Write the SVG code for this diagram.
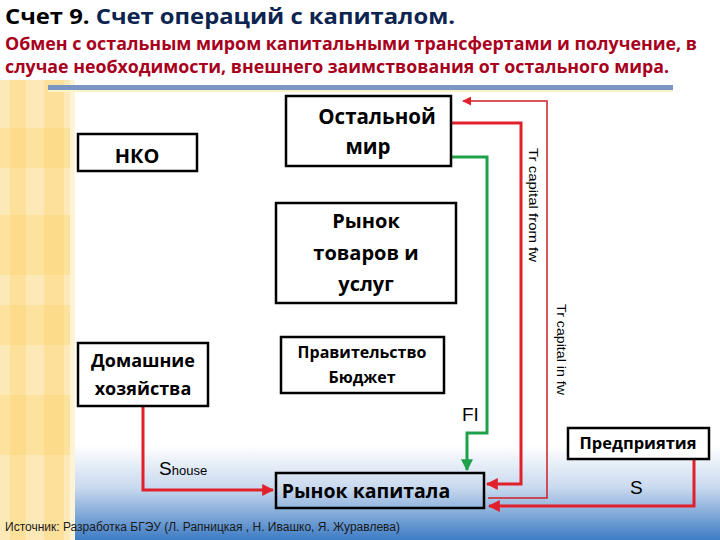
<svg xmlns="http://www.w3.org/2000/svg" width="720" height="540" viewBox="0 0 720 540">
<defs>
<linearGradient id="bot" x1="0" y1="0" x2="0" y2="1">
<stop offset="0" stop-color="#ffffff"/>
<stop offset="0.45" stop-color="#c9d9ee"/>
<stop offset="1" stop-color="#3d7cc4"/>
</linearGradient>
<marker id="ar" viewBox="0 0 10 10" refX="9" refY="5" markerWidth="4" markerHeight="4" orient="auto-start-reverse" markerUnits="strokeWidth">
<path d="M0,0 L10,5 L0,10 z" fill="#e0202a"/>
</marker>
<marker id="arT" viewBox="0 0 10 10" refX="9" refY="5" markerWidth="6" markerHeight="6" orient="auto" markerUnits="strokeWidth">
<path d="M0,0 L10,5 L0,10 z" fill="#e0202a"/>
</marker>
<marker id="ag" viewBox="0 0 10 10" refX="9" refY="5" markerWidth="4" markerHeight="4" orient="auto" markerUnits="strokeWidth">
<path d="M0,0 L10,5 L0,10 z" fill="#1fa04a"/>
</marker>
</defs>
<style>
.box{fill:#ffffff;stroke:#000;stroke-width:2.5}
.bt{font-family:"Open Sans","DejaVu Sans",sans-serif;font-weight:bold;fill:#000;text-anchor:middle}
.red{fill:none;stroke:#e0202a;stroke-width:3}
.thin{fill:none;stroke:#d01c28;stroke-width:1.5}
.grn{fill:none;stroke:#1fa04a;stroke-width:3}
.lbl{font-family:"Liberation Sans",Arial,sans-serif;fill:#000}
</style>
<rect width="720" height="540" fill="#ffffff"/>
<rect x="0" y="445" width="720" height="95" fill="url(#bot)"/>
<g id="stripes">
<rect x="0" y="80" width="74" height="460" fill="#fde9b8"/>
<rect x="10" y="80" width="16" height="460" fill="#fcdc8c" opacity="0.7"/>
<rect x="44" y="80" width="20" height="460" fill="#fcdc8c" opacity="0.7"/>
<rect x="0" y="128" width="74" height="40" fill="#fbd676" opacity="0.4"/>
<rect x="0" y="215" width="74" height="60" fill="#fbd676" opacity="0.4"/>
<rect x="0" y="305" width="74" height="40" fill="#fbd676" opacity="0.4"/>
<rect x="0" y="395" width="74" height="60" fill="#fbd676" opacity="0.4"/>
<rect x="70" y="80" width="5" height="460" fill="#fff3d6"/>
</g>
<rect x="48" y="85" width="625" height="5" fill="#7b96c4"/>
<rect x="48" y="90" width="625" height="2" fill="#fbf3c8"/>
<g id="title">
<text x="5" y="24" font-family="'Open Sans','DejaVu Sans',sans-serif" font-weight="bold" font-size="22" textLength="450" lengthAdjust="spacingAndGlyphs"><tspan fill="#000">Счет 9. </tspan><tspan fill="#0d2450">Счет операций с капиталом.</tspan></text>
<text x="5" y="50" font-family="'Open Sans','DejaVu Sans',sans-serif" font-weight="bold" font-size="17" fill="#a8001c" textLength="692" lengthAdjust="spacingAndGlyphs">Обмен с остальным миром капитальными трансфертами и получение, в</text>
<text x="5" y="73" font-family="'Open Sans','DejaVu Sans',sans-serif" font-weight="bold" font-size="17" fill="#a8001c" textLength="664" lengthAdjust="spacingAndGlyphs">случае необходимости, внешнего заимствования от остального мира.</text>
</g>
<g id="connectors">
<polyline class="grn" points="451,157 487,157 487,433 467,433 467,470" marker-end="url(#ag)"/>
<polyline class="red" points="451,123 521,123 521,484 487,484" marker-end="url(#ar)"/>
<polyline class="thin" points="488,498 547,498 547,101 463,101" marker-end="url(#arT)"/>
<polyline class="red" points="694,459 694,506 489,506" marker-end="url(#ar)"/>
<polyline class="red" points="143,406 143,490 273,490" marker-end="url(#ar)"/>
<text class="lbl" font-size="12.5" transform="translate(529,148) rotate(90)" textLength="114" lengthAdjust="spacingAndGlyphs">Tr capital  from fw</text>
<text class="lbl" font-size="12" transform="translate(557,304) rotate(90)" textLength="91" lengthAdjust="spacingAndGlyphs">Tr capital in fw</text>
<text class="lbl" x="462" y="421" font-size="19">FI</text>
<text class="lbl" x="159" y="475" font-size="19">S<tspan font-size="13">house</tspan></text>
<text class="lbl" x="630" y="494" font-size="19">S</text>
</g>
<g id="nko">
<rect class="box" x="78" y="134" width="119" height="37"/>
<text class="bt" x="137" y="163" font-size="20">НКО</text>
</g>
<g id="rest-world">
<rect class="box" x="286" y="96" width="165" height="70"/>
<text class="bt" x="377" y="124" font-size="20.5">Остальной</text>
<text class="bt" x="368" y="154" font-size="20.5">мир</text>
</g>
<g id="goods-market">
<rect class="box" x="276" y="203" width="180" height="100"/>
<text class="bt" x="366" y="228" font-size="20">Рынок</text>
<text class="bt" x="366" y="260" font-size="20">товаров и</text>
<text class="bt" x="366" y="291" font-size="20">услуг</text>
</g>
<g id="households">
<rect class="box" x="78" y="343" width="130" height="63"/>
<text class="bt" x="143" y="367" font-size="18">Домашние</text>
<text class="bt" x="143" y="395" font-size="18">хозяйства</text>
</g>
<g id="government">
<rect class="box" x="281" y="337" width="163" height="56"/>
<text class="bt" x="362" y="358" font-size="16">Правительство</text>
<text class="bt" x="362" y="383" font-size="16">Бюджет</text>
</g>
<g id="capital-market">
<rect x="276" y="473" width="208" height="35" fill="none" stroke="#000" stroke-width="2.5"/>
<text class="bt" x="366" y="498" font-size="19.5">Рынок капитала</text>
</g>
<g id="enterprises">
<rect class="box" x="568" y="428" width="141" height="31"/>
<text class="bt" x="638" y="449" font-size="16.5">Предприятия</text>
</g>
<text x="5" y="531" font-family="'Liberation Sans',Arial,sans-serif" font-size="12" fill="#1a1a1a" textLength="395" lengthAdjust="spacingAndGlyphs">Источник: Разработка БГЭУ (Л. Рапницкая , Н. Ивашко, Я. Журавлева)</text>
</svg>
